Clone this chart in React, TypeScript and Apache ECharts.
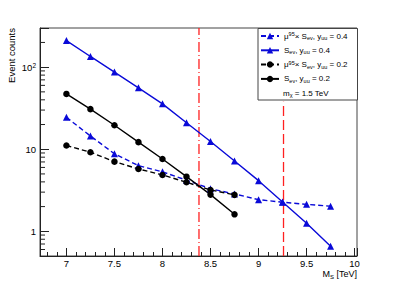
import React, { useEffect, useRef } from "react";
import * as echarts from "echarts";

const massPoints = [7, 7.25, 7.5, 7.75, 8, 8.25, 8.5, 8.75, 9, 9.25, 9.5, 9.75];
const muSEv04 = [24.5, 14.5, 8.8, 6.3, 5.3, 4.2, 3.3, 2.85, 2.43, 2.26, 2.13, 2.02];
const sEv04 = [211, 135, 87, 56, 35.7, 21, 12.4, 7.2, 4.14, 2.28, 1.25, 0.656];
const muSEv02 = [11.1, 9.2, 7.06, 5.75, 4.86, 3.96, 3.19, 2.78];
const sEv02 = [47.2, 30.8, 19.6, 12.2, 7.6, 4.63, 2.8, 1.61];
const limitDashDot = 8.38;
const limitDashed = 9.26;
const limitDashedTop = 38;
const seriesLabels = [
  "μ{sup|95}× S{sub|ev}, y{sub|uu} = 0.4",
  "S{sub|ev}, y{sub|uu} = 0.4",
  "μ{sup|95}× S{sub|ev}, y{sub|uu} = 0.2",
  "S{sub|ev}, y{sub|uu} = 0.2",
];
const seriesNames = ["μ95× Sev, yuu = 0.4", "Sev, yuu = 0.4", "μ95× Sev, yuu = 0.2", "Sev, yuu = 0.2"];
const noteText = "m{sub|χ} = 1.5 TeV";
const xTitle = "M{sub|S} [TeV]";
const yTitle = "Event counts";

const X_MIN = 6.725;
const X_MAX = 10.025;
const Y_MIN = 0.5;
const Y_MAX = 300;

const BLUE = "#0a0ad8";
const BLACK = "#000000";
const RED = "#ff2020";
const FONT = "Liberation Sans, Arial, Helvetica, sans-serif";

function pairs(values: number[]) {
  return values.map((v, i) => [massPoints[i], v]);
}

export default function App() {
  const ref = useRef<HTMLDivElement>(null);
  useEffect(() => {
    if (!ref.current) return;
    const chart = echarts.init(ref.current, null, { renderer: "svg" });

    const minorY: number[][] = [];
    for (let e = -1; e <= 2; e++) {
      for (let m = 2; m <= 9; m++) {
        const v = m * Math.pow(10, e);
        if (v > Y_MIN && v < Y_MAX) minorY.push([X_MIN, v]);
      }
    }

    const richSmall = {
      sup: { fontSize: 5.5, lineHeight: 6, verticalAlign: "top", fontFamily: FONT, color: "#000" },
      sub: { fontSize: 5.5, lineHeight: 6, verticalAlign: "bottom", fontFamily: FONT, color: "#000" },
    };

    const option: any = {
      animation: false,
      backgroundColor: "#ffffff",
      grid: {
        left: 40,
        right: 40,
        top: 28,
        bottom: 29,
        show: true,
        borderColor: "#444",
        borderWidth: 1,
        backgroundColor: "transparent",
      },
      legend: {
        show: true,
        orient: "vertical",
        left: 260,
        top: 31,
        itemWidth: 18,
        itemHeight: 8,
        itemGap: 4.3,
        padding: 0,
        data: seriesNames,
        formatter: (name: string) => seriesLabels[seriesNames.indexOf(name)],
        textStyle: {
          fontFamily: FONT,
          fontSize: 8,
          lineHeight: 10,
          color: "#000",
          rich: richSmall,
        },
        z: 20,
      },
      xAxis: [
        {
          type: "value",
          min: X_MIN,
          max: X_MAX,
          minInterval: 0.5,
          maxInterval: 0.5,
          axisLine: { show: true, onZero: false, lineStyle: { color: "#222", width: 1 } },
          axisTick: { show: true, inside: true, length: 8, lineStyle: { color: "#222" } },
          axisLabel: {
            margin: 2,
            fontFamily: FONT,
            fontSize: 9.5,
            color: "#000",
            formatter: (v: number) => {
              const r = Math.round(v * 2) / 2;
              return Math.abs(r - v) < 1e-6 ? String(r) : "";
            },
          },
          splitLine: { show: false },
        },
        {
          type: "value",
          position: "bottom",
          min: X_MIN,
          max: X_MAX,
          minInterval: 0.1,
          maxInterval: 0.1,
          axisLine: { show: false, onZero: false },
          axisTick: { show: true, inside: true, length: 4, lineStyle: { color: "#222" } },
          axisLabel: { show: false },
          splitLine: { show: false },
        },
      ],
      yAxis: {
        type: "log",
        logBase: 10,
        min: Y_MIN,
        max: Y_MAX,
        axisLine: { show: true, onZero: false, lineStyle: { color: "#222", width: 1 } },
        axisTick: { show: true, inside: true, length: 9, lineStyle: { color: "#222" } },
        axisLabel: {
          margin: 4,
          fontFamily: FONT,
          fontSize: 9.5,
          color: "#000",
          formatter: (v: number) => {
            const l = Math.log10(v);
            const e = Math.round(l);
            if (Math.abs(l - e) > 1e-6) return "";
            if (e === 0) return "1";
            if (e === 1) return "10";
            return "10{sup|" + e + "}";
          },
          rich: {
            sup: { fontSize: 6.5, lineHeight: 7, verticalAlign: "top", fontFamily: FONT, color: "#000" },
          },
        },
        splitLine: { show: false },
      },
      series: [
        {
          name: "limitDashDot",
          type: "line",
          data: [
            [limitDashDot, Y_MIN],
            [limitDashDot, Y_MAX],
          ],
          symbol: "none",
          silent: true,
          lineStyle: { color: RED, width: 1.3, type: [10, 3, 1, 3] },
          z: 2,
        },
        {
          name: "limitDashed",
          type: "line",
          data: [
            [limitDashed, Y_MIN],
            [limitDashed, limitDashedTop],
          ],
          symbol: "none",
          silent: true,
          lineStyle: { color: RED, width: 1.3, type: [10, 4] },
          z: 2,
        },
        {
          name: seriesNames[0],
          type: "line",
          data: pairs(muSEv04),
          symbol: "triangle",
          symbolSize: 7,
          itemStyle: { color: BLUE },
          lineStyle: { color: BLUE, width: 1.4, type: [5, 3] },
          z: 3,
        },
        {
          name: seriesNames[1],
          type: "line",
          data: pairs(sEv04),
          symbol: "triangle",
          symbolSize: 7,
          itemStyle: { color: BLUE },
          lineStyle: { color: BLUE, width: 1.4, type: "solid" },
          z: 3,
        },
        {
          name: seriesNames[2],
          type: "line",
          data: pairs(muSEv02),
          symbol: "circle",
          symbolSize: 6.5,
          itemStyle: { color: BLACK },
          lineStyle: { color: BLACK, width: 1.4, type: [5, 3] },
          z: 3,
        },
        {
          name: seriesNames[3],
          type: "line",
          data: pairs(sEv02),
          symbol: "circle",
          symbolSize: 6.5,
          itemStyle: { color: BLACK },
          lineStyle: { color: BLACK, width: 1.4, type: "solid" },
          z: 3,
        },
        {
          name: "yMinorTicks",
          type: "custom",
          silent: true,
          clip: false,
          data: minorY,
          renderItem: (params: any, api: any) => {
            const p = api.coord([api.value(0), api.value(1)]);
            return {
              type: "line",
              shape: { x1: p[0], y1: p[1], x2: p[0] + 5, y2: p[1] },
              style: { stroke: "#222", lineWidth: 1 },
            };
          },
          z: 1,
        },
      ],
      graphic: [
        {
          type: "rect",
          left: 257.5,
          top: 28,
          shape: { x: 0, y: 0, width: 99.5, height: 71.5 },
          style: { fill: "#ffffff", stroke: "#444", lineWidth: 1 },
          z: 10,
        },
        {
          type: "text",
          x: 283,
          y: 93,
          z: 21,
          style: {
            text: noteText,
            fontFamily: FONT,
            fontSize: 8,
            lineHeight: 10,
            fill: "#000",
            verticalAlign: "middle",
            rich: richSmall,
          },
        },
        {
          type: "text",
          x: 11,
          y: 28,
          rotation: Math.PI / 2,
          style: {
            text: yTitle,
            fontFamily: FONT,
            fontSize: 9.5,
            fill: "#000",
            align: "right",
            verticalAlign: "middle",
          },
        },
        {
          type: "text",
          x: 357,
          y: 274,
          style: {
            text: xTitle,
            fontFamily: FONT,
            fontSize: 9,
            lineHeight: 11,
            fill: "#000",
            align: "right",
            verticalAlign: "middle",
            rich: {
              sub: { fontSize: 6, lineHeight: 6, verticalAlign: "bottom", fontFamily: FONT, fill: "#000" },
            },
          },
        },
      ],
    };
    chart.setOption(option);
    return () => chart.dispose();
  }, []);
  return (
    <div
      ref={ref}
      style={{ position: "fixed", left: 0, top: 0, width: 397, height: 285, background: "#fff" }}
    />
  );
}
